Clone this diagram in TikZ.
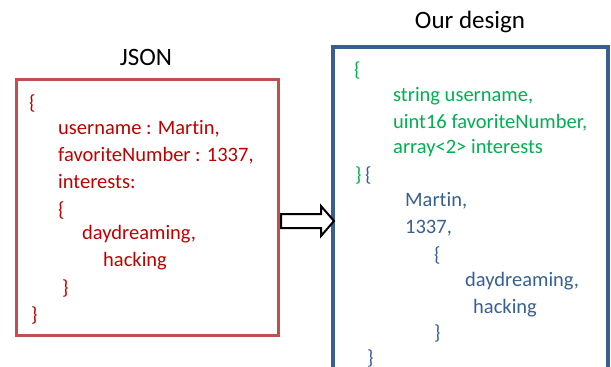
\documentclass[tikz,border=0pt]{standalone}
\usepackage{fontspec}
\setmainfont[Ligatures=NoCommon]{Carlito}
\definecolor{jsonred}{HTML}{C00000}
\definecolor{boxred}{HTML}{C0504D}
\definecolor{ourgreen}{HTML}{00B050}
\definecolor{ourblue}{HTML}{376092}
\definecolor{boxblue}{HTML}{3A5F8E}
\begin{document}
\begin{tikzpicture}[x=1pt,y=-1pt,
  title/.style={font=\fontsize{25}{30}\selectfont, text=black, inner sep=0pt},
  body/.style={font=\fontsize{20.5}{25}\selectfont, anchor=base west, inner sep=0pt},
  red/.style={body, text=jsonred},
  grn/.style={body, text=ourgreen},
  blu/.style={body, text=ourblue}]
\useasboundingbox (0,0) rectangle (611,367);
% boxes
\draw[boxred, line width=3pt] (16,79) rectangle (278,335);
\draw[boxblue, line width=4pt] (333,47) rectangle (608,375);
% titles
\node[title] (tjson) at (146,57) {JSON};
\node[title] (tour) at (470,22) {Our design};
% JSON text
\node[red] (l1) at (29,109) {\{};
\node[red] (l2) at (58,134) {username : Martin,};
\node[red] (l3) at (58,161) {favoriteNumber : 1337,};
\node[red] (l4) at (58,188) {interests:};
\node[red] (l5) at (58,216) {\{};
\node[red] (l6) at (82,239) {daydreaming,};
\node[red] (l7) at (103,266) {hacking};
\node[red] (l8) at (62,294) {\}};
\node[red] (l9) at (31,321) {\}};
% our design text
\node[grn] (r1) at (354,76) {\{};
\node[grn] (r2) at (393,101) {string username,};
\node[grn] (r3) at (393,128) {uint16 favoriteNumber,};
\node[grn] (r4) at (393,153) {array<2> interests};
\node[grn] (r5) at (355,181) {\}};
\node[blu] (r5b) at (365,181) {\{};
\node[blu] (r6) at (405,206) {Martin,};
\node[blu] (r7) at (405,233) {1337,};
\node[blu] (r8) at (434,261) {\{};
\node[blu] (r9) at (465,286) {daydreaming,};
\node[blu] (r10) at (473,313) {hacking};
\node[blu] (r11) at (434,339) {\}};
\node[blu] (r12) at (367,364) {\}};
% block arrow
\draw[black, fill=white, line width=2pt, line join=miter]
  (281,214) -- (321,214) -- (321,206) -- (334,221) -- (321,236) -- (321,228) -- (281,228) -- cycle;
\end{tikzpicture}
\end{document}
